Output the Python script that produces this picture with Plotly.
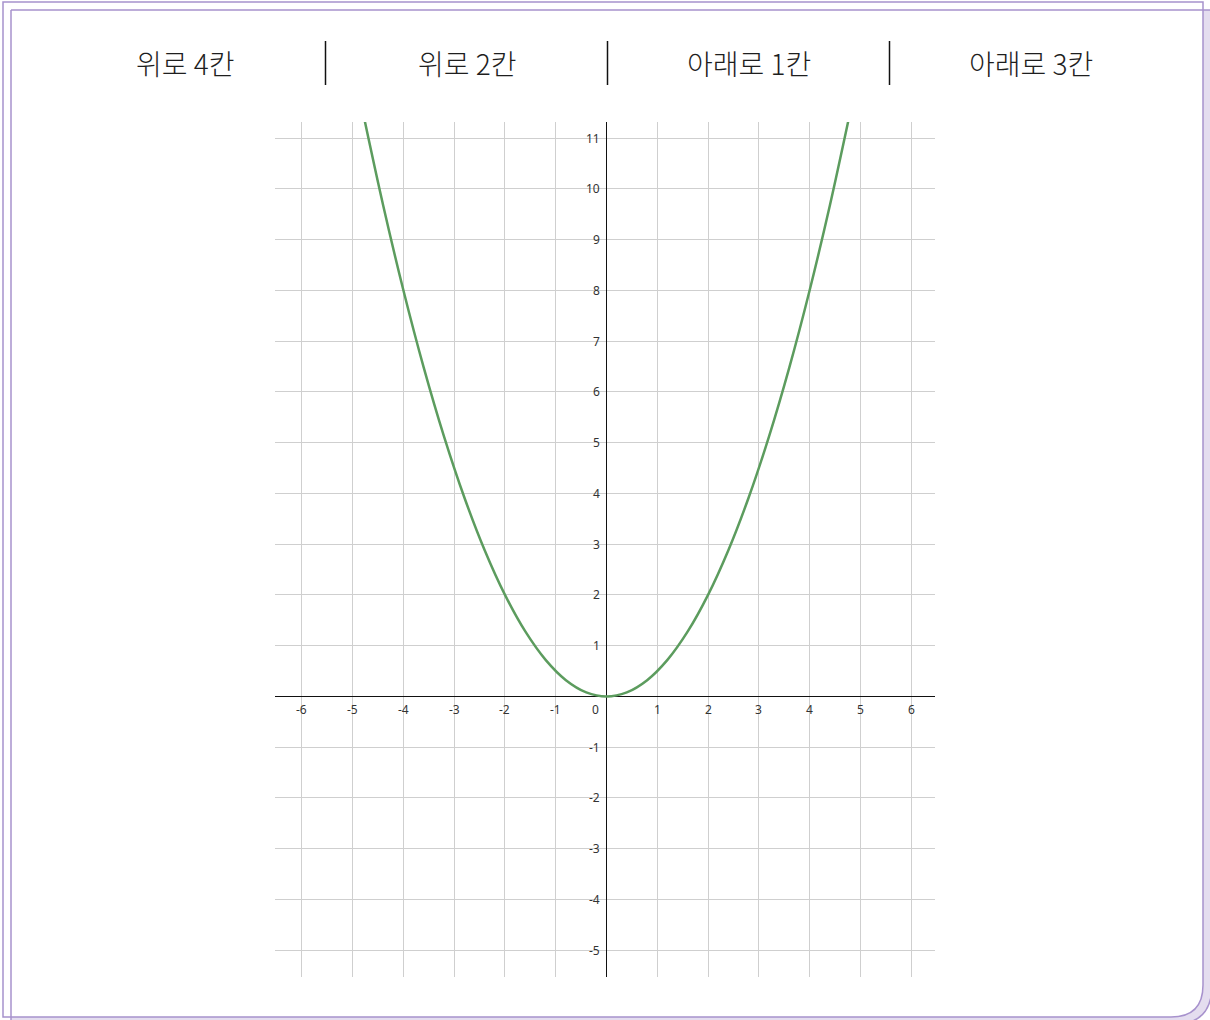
import plotly.graph_objects as go

# Curve samples for y = x²/2
curve_x = [-4.8, -4.4, -4.0, -3.6, -3.2, -2.8, -2.4, -2.0, -1.6, -1.2, -0.8, -0.4, 0.0,
           0.4, 0.8, 1.2, 1.6, 2.0, 2.4, 2.8, 3.2, 3.6, 4.0, 4.4, 4.8]
curve_y = [11.52, 9.68, 8.0, 6.48, 5.12, 3.92, 2.88, 2.0, 1.28, 0.72, 0.32, 0.08, 0.0,
           0.08, 0.32, 0.72, 1.28, 2.0, 2.88, 3.92, 5.12, 6.48, 8.0, 9.68, 11.52]

# Axis ticks
x_ticks = [-6, -5, -4, -3, -2, -1, 1, 2, 3, 4, 5, 6]
y_ticks = [-5, -4, -3, -2, -1, 1, 2, 3, 4, 5, 6, 7, 8, 9, 10, 11]

# Header options
header_labels = ["위로 4칸", "위로 2칸", "아래로 1칸", "아래로 3칸"]

W, H = 1210, 1020
PLOT_L, PLOT_R, PLOT_T, PLOT_B = 275, 935, 122, 977
X_RANGE = [-6.53, 6.47]
Y_RANGE = [-5.53, 11.32]


def px(x):
    return x / W


def py(y):
    return 1 - y / H


def path(points):
    # points: list of (cmd, x, y) in pixel space, converted to paper space
    parts = []
    for item in points:
        cmd = item[0]
        if cmd == "Z":
            parts.append("Z")
        elif cmd == "Q":
            _, cx, cy, x, y = item
            parts.append(f"Q{px(cx)},{py(cy)} {px(x)},{py(y)}")
        else:
            _, x, y = item
            parts.append(f"{cmd}{px(x)},{py(y)}")
    return " ".join(parts)


fig = go.Figure()

fig.add_trace(go.Scatter(
    x=curve_x, y=curve_y, mode="lines",
    line=dict(color="#5c9c5e", width=2.5, shape="spline", smoothing=1.0),
    hoverinfo="skip", showlegend=False,
))

purple = "#a792cd"
shapes = []
# lavender backing card
shapes.append(dict(
    type="path", xref="paper", yref="paper", layer="below",
    path=path([("M", 11, 10), ("L", 1212, 10), ("L", 1212, 985),
               ("Q", 1212, 1024, 1175, 1024), ("L", 11, 1024), ("Z",)]),
    fillcolor="#e4ddef", line=dict(color=purple, width=1.5),
))
# white front panel
shapes.append(dict(
    type="path", xref="paper", yref="paper", layer="below",
    path=path([("M", 3, 2), ("L", 1203, 2), ("L", 1203, 985),
               ("Q", 1203, 1017, 1171, 1017), ("L", 3, 1017), ("Z",)]),
    fillcolor="white", line=dict(color=purple, width=1.5),
))
# inner frame edges
shapes.append(dict(type="line", xref="paper", yref="paper", layer="below",
                   x0=px(11), x1=px(11), y0=py(10), y1=py(1017),
                   line=dict(color=purple, width=1.5)))
shapes.append(dict(type="line", xref="paper", yref="paper", layer="below",
                   x0=px(11), x1=px(1203), y0=py(10), y1=py(10),
                   line=dict(color=purple, width=1.5)))

# header separators
col_left, col_w = 44, 282
for i in range(1, len(header_labels)):
    sx = col_left + col_w * i - 0.5
    shapes.append(dict(type="line", xref="paper", yref="paper",
                       x0=px(sx), x1=px(sx), y0=py(41), y1=py(85),
                       line=dict(color="#111", width=1.5)))

annotations = []
for i, lab in enumerate(header_labels):
    annotations.append(dict(
        text=lab, xref="paper", yref="paper",
        x=px(col_left + col_w * i + col_w / 2), y=py(63),
        xanchor="center", yanchor="middle", showarrow=False,
        font=dict(family="Noto Sans CJK KR", size=28, color="#1e1e1e", weight=300),
    ))

tick_font = dict(family="Noto Sans, DejaVu Sans", size=12, color="#333")
for t in x_ticks:
    annotations.append(dict(text=str(t), x=t, y=0, xref="x", yref="y",
                            xanchor="center", yanchor="top", yshift=-3,
                            showarrow=False, font=tick_font))
annotations.append(dict(text="0", x=0, y=0, xref="x", yref="y",
                        xanchor="right", yanchor="top", xshift=-6, yshift=-3,
                        showarrow=False, font=tick_font))
for t in y_ticks:
    annotations.append(dict(text=str(t), x=0, y=t, xref="x", yref="y",
                            xanchor="right", yanchor="middle", xshift=-5,
                            showarrow=False, font=tick_font))

grid = "#cfcfcf"
fig.update_layout(
    width=W, height=H,
    margin=dict(l=0, r=0, t=0, b=0),
    paper_bgcolor="white", plot_bgcolor="white",
    shapes=shapes, annotations=annotations,
    xaxis=dict(domain=[PLOT_L / W, PLOT_R / W], range=X_RANGE,
               tickvals=list(range(-6, 7)), showticklabels=False,
               showgrid=True, gridcolor=grid, gridwidth=1.3,
               zeroline=True, zerolinecolor="#111", zerolinewidth=1.2,
               showline=False, fixedrange=True),
    yaxis=dict(domain=[1 - PLOT_B / H, 1 - PLOT_T / H], range=Y_RANGE,
               tickvals=list(range(-5, 12)), showticklabels=False,
               showgrid=True, gridcolor=grid, gridwidth=1.3,
               zeroline=True, zerolinecolor="#111", zerolinewidth=1.2,
               showline=False, fixedrange=True),
    showlegend=False,
)

fig.write_html("out.html", config={"displayModeBar": False})
